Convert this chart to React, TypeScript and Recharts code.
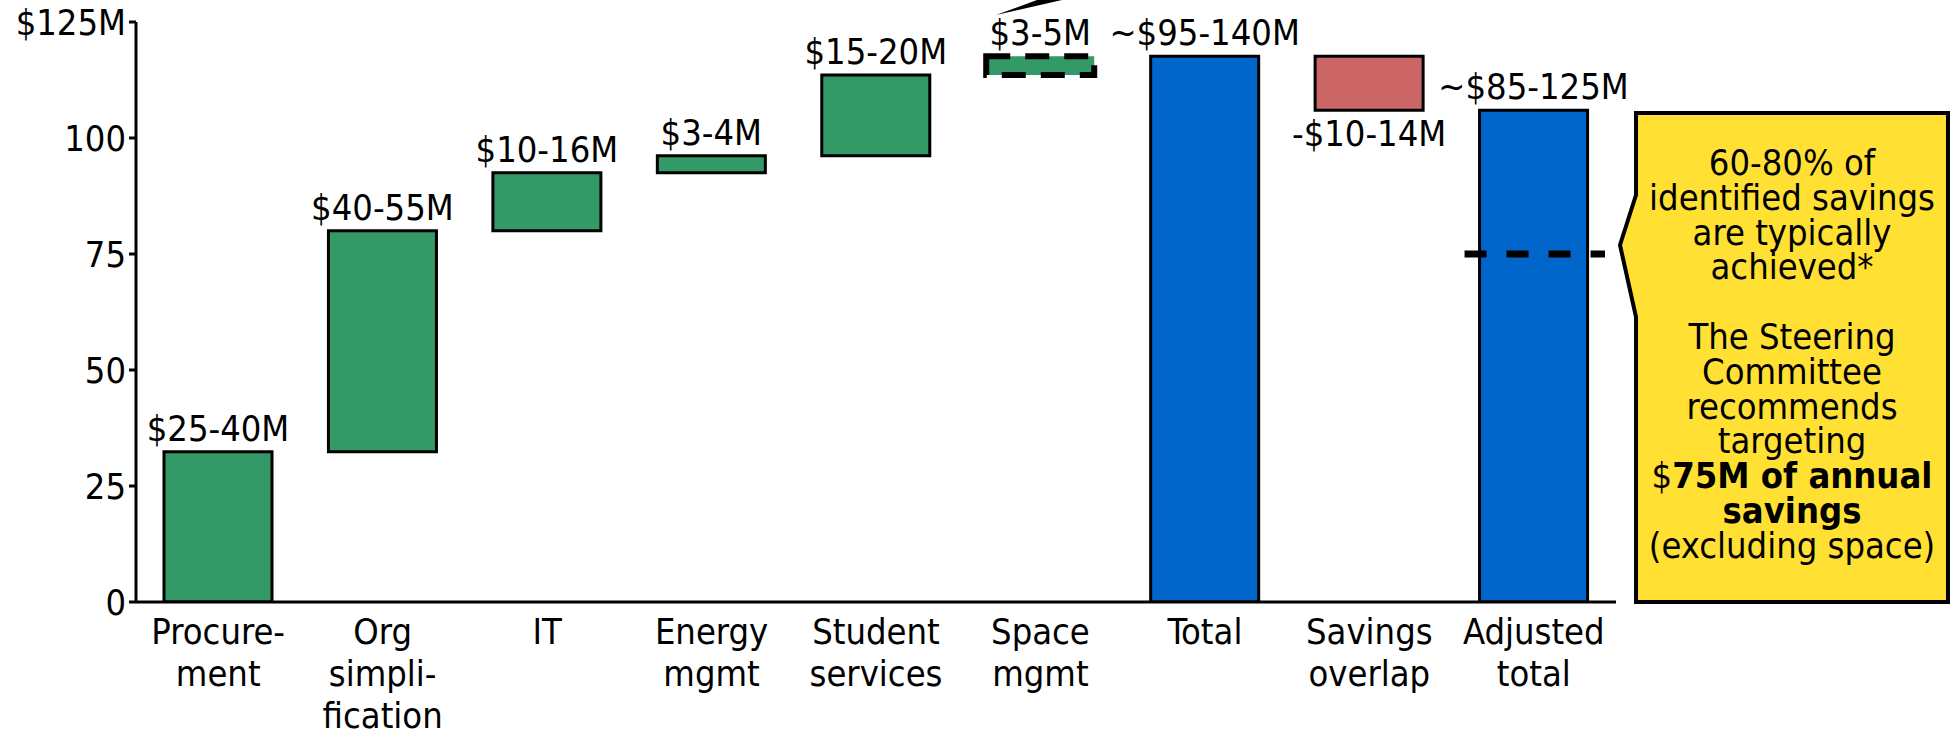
import React from 'react';
import { BarChart, Bar, XAxis, YAxis, Cell, LabelList, ReferenceArea, Customized } from 'recharts';

const categories = ["Procure-\nment", "Org\nsimpli-\nfication", "IT", "Energy\nmgmt", "Student\nservices", "Space\nmgmt", "Total", "Savings\noverlap", "Adjusted\ntotal"];
const lowValues = [0, 32.4, 80, 92.5, 96.2, 113.6, 0, 106, 0];
const highValues = [32.4, 80, 92.5, 96.2, 113.6, 117.6, 117.6, 117.6, 106];
const barLabels = ["$25-40M", "$40-55M", "$10-16M", "$3-4M", "$15-20M", "$3-5M", "~$95-140M", "-$10-14M", "~$85-125M"];
const barKinds = ["saving", "saving", "saving", "saving", "saving", "space", "total", "overlap", "total"];
const yTicks = [0, 25, 50, 75, 100, 125];
const targetValue = 75;
const targetCategory = "Adjusted\ntotal";
const calloutLines = [
  [{ t: "60-80% of", b: false }],
  [{ t: "identified savings", b: false }],
  [{ t: "are typically", b: false }],
  [{ t: "achieved*", b: false }],
  [],
  [{ t: "The Steering", b: false }],
  [{ t: "Committee", b: false }],
  [{ t: "recommends", b: false }],
  [{ t: "targeting", b: false }],
  [{ t: "$", b: false }, { t: "75M of annual", b: true }],
  [{ t: "savings", b: true }],
  [{ t: "(excluding space)", b: false }],
];

const FONT = "'DejaVu Sans Condensed', 'DejaVu Sans', Verdana, sans-serif";
const FS = 36;
const COLORS: Record<string, string> = {
  saving: "#339966",
  space: "#339966",
  total: "#0066CC",
  overlap: "#CC6666",
};

const data = categories.map((name, i) => ({
  name,
  range: [lowValues[i], highValues[i]],
  label: barLabels[i],
  kind: barKinds[i],
}));

const W = 1952;
const H = 730;
const M = { top: 22, right: 336, bottom: 0, left: 0 };
const Y_AXIS_W = 136;
const X_AXIS_H = 128;

const XTick = (props: any) => {
  const { x, y, payload } = props;
  const lines = String(payload.value).split("\n");
  return (
    <text x={x} y={y} textAnchor="middle" fill="#000" fontSize={FS} fontFamily={FONT}>
      {lines.map((l, i) => (
        <tspan key={i} x={x} dy={i === 0 ? 34 : 42}>{l}</tspan>
      ))}
    </text>
  );
};

const BarLabel = (props: any) => {
  const { x, y, width, height, value, index } = props;
  const top = Math.min(y, y + height);
  const bottom = Math.max(y, y + height);
  const below = barKinds[index] === "overlap";
  return (
    <text
      x={x + width / 2}
      y={below ? bottom + 36 : top - 11}
      textAnchor="middle"
      fill="#000"
      fontSize={FS}
      fontFamily={FONT}
    >
      {value}
    </text>
  );
};

const TargetLine = (props: any) => {
  const { x, y, width, height } = props;
  const cy = y + height / 2;
  return (
    <line x1={x + 13} x2={x + width - 11} y1={cy} y2={cy} stroke="#000" strokeWidth={7} strokeDasharray="22 20" />
  );
};

const Callout = () => {
  const left = 1636, right = 1948, top = 113, bottom = 602;
  const cx = (left + right) / 2;
  const path = `M ${left} ${top} L ${right} ${top} L ${right} ${bottom} L ${left} ${bottom} L ${left} 317 L 1620 245 L ${left} 195 Z`;
  return (
    <g>
      <polygon points="996,15 1037,0 1062,0" fill="#000" />
      <path d={path} fill="#FFE033" stroke="#000" strokeWidth={4} strokeLinejoin="miter" />
      <text textAnchor="middle" fill="#000" fontSize={FS} fontFamily={FONT}>
        {calloutLines.map((line, i) => (
          <tspan key={i} x={cx} y={175 + i * 34.8}>
            {line.map((seg, j) => (
              <tspan key={j} fontWeight={seg.b ? "bold" : "normal"}>{seg.t}</tspan>
            ))}
          </tspan>
        ))}
      </text>
    </g>
  );
};

export default function App() {
  return (
    <div style={{ position: "absolute", left: 0, top: 0, width: W, height: H, background: "#fff", fontFamily: FONT }}>
      <BarChart width={W} height={H} data={data} margin={M}>
        <XAxis
          dataKey="name"
          interval={0}
          height={X_AXIS_H}
          tick={<XTick />}
          tickLine={false}
          axisLine={{ stroke: "#000", strokeWidth: 3 }}
        />
        <YAxis
          type="number"
          domain={[0, 125]}
          ticks={yTicks}
          width={Y_AXIS_W}
          interval={0}
          allowDataOverflow
          tickFormatter={(v: number) => (v === 125 ? "$125M" : String(v))}
          tick={{ fill: "#000", fontSize: FS, fontFamily: FONT }}
          tickLine={{ stroke: "#000", strokeWidth: 3 }}
          tickSize={7}
          tickMargin={3}
          axisLine={{ stroke: "#000", strokeWidth: 3 }}
        />
        <Bar dataKey="range" barSize={108} isAnimationActive={false}>
          {data.map((d, i) => (
            <Cell
              key={i}
              fill={COLORS[d.kind]}
              stroke="#000"
              strokeWidth={d.kind === "space" ? 6 : 3}
              strokeDasharray={d.kind === "space" ? "24 15" : undefined}
            />
          ))}
          <LabelList dataKey="label" content={<BarLabel />} />
        </Bar>
        <ReferenceArea
          x1={targetCategory}
          x2={targetCategory}
          y1={targetValue}
          y2={targetValue}
          ifOverflow="visible"
          isFront
          zIndex={1500}
          shape={<TargetLine />}
        />
        <Customized component={<Callout />} />
      </BarChart>
    </div>
  );
}
